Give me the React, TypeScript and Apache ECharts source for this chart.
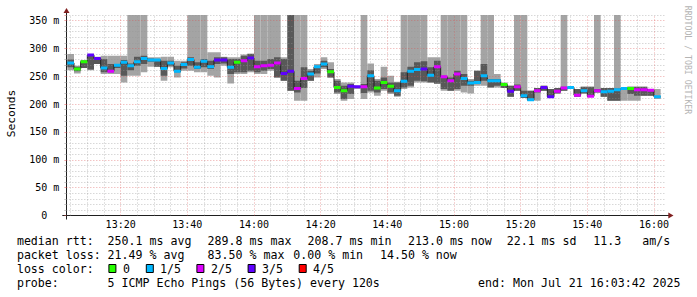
import React, { useEffect, useRef } from "react";
import * as echarts from "echarts";

// ---- time frame (minutes since midnight) ----
const FIRST_STEP_MINUTE = 784; // 13:04, start of first 120 s step
const STEP_MINUTES = 2;
const VIEW_START_MINUTE = 783.7; // 13:03:42
const VIEW_END_MINUTE = 963.7; // 16:03:42

// ---- per-step values (ms) ----
const medianRtt = [
  274, 263, 276, 288, 282, 265, 259, 270, 275, 269,
  276, 282, 279, 279, 264, 274, 259, 271, 280, 266,
  277, 267, 279, 279, 266, 275, 278, 283, 267, 269,
  270, 274, 255, 259, 228, 246, 254, 267, 272, 258,
  230, 224, 232, 231, 231, 251, 229, 239, 232, 224,
  241, 259, 262, 263, 252, 267, 249, 242, 254, 246,
  238, 239, 251, 242, 242, 235, 223, 231, 215, 208,
  224, 230, 213, 223, 229, 230, 216, 224, 214, 224,
  222, 223, 226, 228, 228, 226, 226, 225, 213,
];
// lost pings out of 5
const lossLevel = [
  1, 0, 0, 3, 3, 1, 2, 1, 1, 1,
  1, 1, 1, 1, 1, 1, 1, 1, 1, 1,
  1, 1, 3, 3, 1, 0, 2, 3, 2, 2,
  2, 2, 3, 3, 2, 2, 1, 1, 1, 0,
  0, 0, 3, 3, 2, 1, 0, 0, 0, 1,
  1, 1, 1, 3, 1, 2, 2, 2, 2, 1,
  1, 1, 1, 1, 1, 0, 3, 2, 1, 1,
  2, 3, 3, 2, 2, 1, 2, 1, 2, 2,
  1, 1, 1, 1, 0, 2, 2, 2, 1,
];
const pingMin = [
  261, 255, 265, 261, 272, 254, 254, 254, 239, 251,
  251, 257, 267, 267, 242, 266, 248, 260, 260, 257,
  257, 251, 248, 269, 237, 254, 254, 257, 254, 254,
  260, 248, 242, 224, 206, 206, 242, 248, 263, 248,
  218, 206, 209, 227, 209, 221, 215, 224, 218, 213,
  227, 230, 239, 239, 239, 236, 224, 224, 224, 221,
  219, 233, 233, 230, 230, 229, 213, 224, 211, 206,
  206, 224, 212, 219, 224, 227, 213, 219, 213, 221,
  213, 206, 206, 206, 206, 206, 215, 215, 209,
];
const pingMax = [
  290, 269, 279, 289, 285, 287, 287, 287, 287, 360,
  360, 360, 284, 284, 285, 285, 278, 278, 360, 360,
  360, 293, 293, 285, 284, 284, 289, 291, 360, 360,
  360, 360, 284, 360, 360, 360, 263, 272, 284, 275,
  245, 239, 239, 233, 360, 273, 245, 267, 251, 240,
  360, 360, 360, 360, 284, 284, 360, 360, 360, 360,
  245, 260, 360, 360, 254, 239, 233, 360, 360, 224,
  229, 233, 227, 229, 360, 231, 227, 231, 231, 360,
  229, 229, 360, 229, 231, 231, 231, 227, 227,
];
const pingLow = [
  266, 259, 265, 262, 272, 257, 257, 265, 251, 261,
  269, 272, 276, 267, 251, 269, 257, 264, 269, 263,
  266, 263, 272, 273, 254, 257, 257, 260, 257, 260,
  263, 248, 242, 224, 221, 229, 242, 255, 266, 248,
  221, 209, 218, 231, 220, 224, 221, 227, 221, 215,
  230, 233, 242, 241, 239, 237, 227, 224, 227, 233,
  233, 236, 242, 230, 233, 229, 213, 224, 211, 206,
  221, 224, 212, 219, 224, 230, 213, 219, 213, 221,
  213, 206, 206, 228, 218, 215, 215, 215, 213,
];
const pingHigh = [
  280, 267, 278, 287, 284, 281, 272, 272, 279, 273,
  285, 287, 282, 281, 278, 278, 269, 275, 284, 275,
  281, 278, 284, 284, 281, 281, 287, 290, 278, 278,
  281, 284, 281, 360, 242, 266, 260, 269, 278, 263,
  242, 233, 236, 231, 236, 261, 242, 248, 239, 239,
  257, 267, 275, 277, 266, 278, 251, 248, 260, 254,
  242, 260, 272, 245, 245, 237, 233, 235, 224, 224,
  229, 233, 227, 229, 231, 230, 227, 231, 231, 227,
  229, 229, 228, 228, 231, 231, 231, 227, 213,
];

// ---- axes ----
const xLabelMinutes = [800, 820, 840, 860, 880, 900, 920, 940, 960];
const Y_MAX = 360;
const Y_MAJOR = 50;
const Y_MINOR = 10;
const X_MINOR = 5;

// ---- legend ----
const lossColors = ["#26ff00", "#00b8ff", "#dd00ff", "#5e00ff", "#ff0000"];
const lossLabels = ["0", "1/5", "2/5", "3/5", "4/5"];
const rttStats = ["250.1 ms avg", "289.8 ms max", "208.7 ms min", "213.0 ms now", "22.1 ms sd", "11.3", "am/s"];
const lossStats = ["21.49 % avg", "83.50 % max", "0.00 % min", "14.50 % now"];
const probeText = "5 ICMP Echo Pings (56 Bytes) every 120s";
const endText = "end: Mon Jul 21 16:03:42 2025";

const GRID = { left: 66.33, right: 30.67, top: 15, bottom: 81.5 };
const MONO = '"DejaVu Sans Mono", "Liberation Mono", monospace';
const LIGHT_SMOKE = "#a4a4a4";
const DARK_SMOKE = "#585858";
const GRID_COLOR = "rgba(150,150,150,0.55)";
const MGRID_COLOR = "rgba(222,79,79,0.5)";
const AXIS_COLOR = "rgb(31,31,31)";
const ARROW_COLOR = "rgb(128,31,31)";

const fmtMinute = (m: number) => {
  const h = Math.floor(m / 60);
  const mm = Math.round(m - h * 60);
  return `${String(h).padStart(2, "0")}:${String(mm).padStart(2, "0")}`;
};

export default function App() {
  const ref = useRef<HTMLDivElement>(null);

  useEffect(() => {
    if (!ref.current) return;
    document.body.style.margin = "0";
    const chart = echarts.init(ref.current, undefined, { renderer: "svg" });

    const steps = medianRtt.map((m, k) => {
      const t0 = FIRST_STEP_MINUTE + k * STEP_MINUTES;
      return { t0, t1: t0 + STEP_MINUTES, k };
    });

    const lightData = steps.map((s) => [s.t0, s.t1, pingMin[s.k], pingMax[s.k]]);
    const darkData = steps.map((s) => [s.t0, s.t1, pingLow[s.k], pingHigh[s.k]]);
    const medianLine: number[][] = steps.map((s) => [s.t0, medianRtt[s.k]]);
    medianLine.push([steps[steps.length - 1].t1, medianRtt[medianRtt.length - 1]]);
    const colorData = steps.map((s) => [s.t0, s.t1, medianRtt[s.k], lossLevel[s.k]]);

    const rectItem = (fill: string) => (params: any, api: any) => {
      const a = api.coord([api.value(0), api.value(3)]);
      const b = api.coord([api.value(1), api.value(2)]);
      const h = b[1] - a[1];
      if (h <= 0) return null;
      return {
        type: "rect",
        shape: { x: a[0], y: a[1], width: b[0] - a[0], height: h },
        style: { fill },
      };
    };

    // grid lines through the axis scales
    const gridMarks: any[] = [];
    for (let v = Y_MINOR; v <= Y_MAX; v += Y_MINOR) {
      gridMarks.push({
        yAxis: v,
        lineStyle: { color: v % Y_MAJOR === 0 ? MGRID_COLOR : GRID_COLOR, type: [1, 2], width: 1 },
      });
    }
    for (let m = Math.ceil(VIEW_START_MINUTE / X_MINOR) * X_MINOR; m <= VIEW_END_MINUTE; m += X_MINOR) {
      gridMarks.push({
        xAxis: m,
        lineStyle: { color: m % 20 === 0 ? MGRID_COLOR : GRID_COLOR, type: [1, 2], width: 1 },
      });
    }

    const txt = (text: string, x: number, y: number, extra: any = {}) => ({
      type: "text",
      x,
      y,
      silent: true,
      style: {
        text,
        font: `11.6px ${MONO}`,
        fill: "#000",
        textVerticalAlign: "middle",
        ...extra,
      },
    });

    const rttX = [107.6, 207.6, 307.6, 408, 506.7, 593.3, 642.2];
    const lossX = [107.6, 207.6, 293.3, 380];
    const boxX = [108.4, 145.8, 196.4, 247.6, 298.7];
    const boxLabelX = [123, 160, 211, 262, 313];
    const ROW = [241, 255, 269, 283];

    const graphic: any[] = [
      { type: "line", silent: true, shape: { x1: 62.3, y1: 215.5, x2: 670.3, y2: 215.5 }, style: { stroke: AXIS_COLOR, lineWidth: 1 } },
      { type: "line", silent: true, shape: { x1: 66.5, y1: 219.5, x2: 66.5, y2: 11 }, style: { stroke: AXIS_COLOR, lineWidth: 1 } },
      { type: "polygon", silent: true, shape: { points: [[668.3, 212.5], [673.5, 215.5], [668.3, 218.5]] }, style: { fill: ARROW_COLOR } },
      { type: "polygon", silent: true, shape: { points: [[63.5, 13], [66.5, 8], [69.5, 13]] }, style: { fill: ARROW_COLOR } },
      {
        type: "text", x: 11, y: 113.5, rotation: Math.PI / 2, silent: true,
        style: { text: "Seconds", font: `11.3px ${MONO}`, fill: "#000", textAlign: "center", textVerticalAlign: "middle" },
      },
      {
        type: "text", x: 687.5, y: 60, rotation: -Math.PI / 2, silent: true,
        style: { text: "RRDTOOL / TOBI OETIKER", font: `8.2px ${MONO}`, fill: "#b4b4b4", textAlign: "center", textVerticalAlign: "middle" },
      },
      txt("median rtt:", 16.9, ROW[0]),
      ...rttStats.map((s, i) => txt(s, rttX[i], ROW[0])),
      txt("packet loss:", 16.9, ROW[1]),
      ...lossStats.map((s, i) => txt(s, lossX[i], ROW[1])),
      txt("loss color:", 16.9, ROW[2]),
      ...lossColors.map((c, i) => ({
        type: "rect", silent: true,
        shape: { x: boxX[i] + 0.5, y: ROW[2] - 4.5, width: 7, height: 8 },
        style: { fill: c, stroke: "#000", lineWidth: 1 },
      })),
      ...lossLabels.map((s, i) => txt(s, boxLabelX[i], ROW[2])),
      txt("probe:", 16.9, ROW[3]),
      txt(probeText, 107.6, ROW[3]),
      txt(endText, 680.5, ROW[3], { textAlign: "right" }),
    ];

    chart.setOption({
      animation: false,
      backgroundColor: "#ffffff",
      grid: { ...GRID, containLabel: false, outerBoundsMode: "none" },
      xAxis: {
        type: "value",
        min: VIEW_START_MINUTE,
        max: VIEW_END_MINUTE,
        axisLine: { show: false },
        axisTick: { show: false },
        splitLine: { show: false },
        axisLabel: {
          customValues: xLabelMinutes,
          formatter: (v: number) => fmtMinute(v),
          fontFamily: MONO,
          fontSize: 10,
          color: "#000",
          margin: 4,
        },
      },
      yAxis: {
        type: "value",
        min: 0,
        max: Y_MAX,
        interval: Y_MAJOR,
        axisLine: { show: false },
        axisTick: { show: true, length: 2, lineStyle: { color: MGRID_COLOR } },
        minorTick: { show: true, splitNumber: 5, length: 2, lineStyle: { color: GRID_COLOR } },
        splitLine: { show: false },
        minorSplitLine: { show: false },
        axisLabel: {
          formatter: (v: number) => (v === 0 ? "0\u00a0\u00a0" : v % Y_MAJOR === 0 && v < Y_MAX ? `${v} m` : ""),
          fontFamily: MONO,
          fontSize: 10,
          color: "#000",
          margin: 7,
        },
      },
      series: [
        {
          type: "line",
          name: "grid",
          data: [],
          silent: true,
          z: 0,
          markLine: {
            silent: true,
            symbol: ["none", "none"],
            label: { show: false },
            emphasis: { disabled: true },
            animation: false,
            data: gridMarks,
          },
        },
        {
          type: "custom",
          name: "smoke-outer",
          data: lightData,
          encode: { x: [0, 1], y: [2, 3] },
          renderItem: rectItem(LIGHT_SMOKE),
          clip: true,
          silent: true,
          z: 1,
        },
        {
          type: "custom",
          name: "smoke-inner",
          data: darkData,
          encode: { x: [0, 1], y: [2, 3] },
          renderItem: rectItem(DARK_SMOKE),
          clip: true,
          silent: true,
          z: 2,
        },
        {
          type: "line",
          name: "median",
          data: medianLine,
          step: "end",
          showSymbol: false,
          silent: true,
          lineStyle: { color: "#202020", width: 1 },
          z: 4,
        },
        {
          type: "custom",
          name: "loss-colored median",
          data: colorData,
          encode: { x: [0, 1], y: 2 },
          clip: true,
          silent: true,
          z: 5,
          renderItem: (params: any, api: any) => {
            const color = lossColors[api.value(3)];
            const a = api.coord([api.value(0), api.value(2)]);
            const b = api.coord([api.value(1), api.value(2)]);
            return {
              type: "rect",
              shape: { x: a[0], y: a[1] - 1.5, width: b[0] - a[0], height: 3 },
              style: { fill: color },
            };
          },
        },
      ],
      graphic,
    });

    return () => chart.dispose();
  }, []);

  return <div ref={ref} style={{ position: "absolute", left: 0, top: 0, width: 697, height: 297 }} />;
}
